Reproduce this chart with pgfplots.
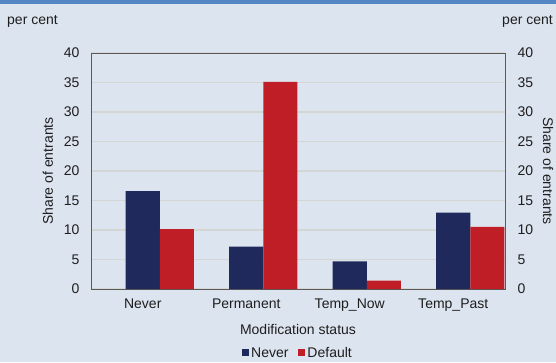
\documentclass[border=0pt]{standalone}
\usepackage{pgfplots}
\pgfplotsset{compat=1.18}
\usepackage{fontspec}
\setmainfont{Liberation Sans}
\definecolor{bg}{RGB}{220,228,240}
\definecolor{topbar}{RGB}{84,134,196}
\definecolor{navy}{RGB}{31,41,92}
\definecolor{cred}{RGB}{192,30,38}
\definecolor{gridc}{RGB}{212,214,212}
\definecolor{axc}{RGB}{90,90,90}
\definecolor{txt}{RGB}{30,30,30}
\begin{document}
\begin{tikzpicture}[x=1pt,y=1pt,font=\fontsize{14}{16}\selectfont]
\useasboundingbox (0,0) rectangle (556,362);
\fill[bg] (0,0) rectangle (556,362);
\fill[topbar] (0,358) rectangle (556,362);
\node[anchor=west,inner sep=0pt,text=txt] at (7,341) {per cent};
\node[anchor=east,inner sep=0pt,text=txt] at (553,341) {per cent};
\begin{axis}[
  at={(91pt,73pt)}, anchor=south west,
  width=414pt, height=236pt, scale only axis,
  xmin=-0.5, xmax=3.5, ymin=0, ymax=40,
  ytick={0,5,...,40},
  xtick={0,1,2,3},
  xticklabels={Never,Permanent,Temp\_Now,Temp\_Past},
  major tick length=0pt,
  ybar=0pt, bar width=0.33,
  axis line style={axc, line width=1pt},
  ymajorgrids, grid style={gridc, line width=1.2pt},
  tick label style={text=txt, font=\fontsize{14}{16}\selectfont},
  /pgf/number format/assume math mode=true,
  yticklabel style={xshift=-8pt},
  xticklabel style={yshift=-6pt},
  xlabel={Modification status},
  xlabel style={text=txt, font=\fontsize{14}{16}\selectfont, yshift=-6pt},
  ylabel={Share of entrants},
  ylabel style={text=txt, font=\fontsize{14}{16}\selectfont, yshift=4pt},
  legend style={at={(0.5,-0.271)}, anchor=center, draw=none, fill=none,
    legend columns=2, font=\fontsize{14}{16}\selectfont, text=txt,
    inner sep=0pt,
    /tikz/every even column/.append style={column sep=8pt}},
  legend image code/.code={\fill[#1] (2pt,-3.5pt) rectangle (9pt,3.5pt);},
]
\addplot[fill=navy, draw=none, bar shift=0] coordinates {(0,16.6) (1,7.2) (2,4.7) (3,12.95)};
\addplot[fill=cred, draw=none, bar shift=0.33] coordinates {(0,10.15) (1,35.1) (2,1.4) (3,10.55)};
\legend{Never,Default}
\end{axis}
\begin{axis}[
  at={(91pt,73pt)}, anchor=south west,
  width=414pt, height=236pt, scale only axis,
  xmin=-0.5, xmax=3.5, ymin=0, ymax=40,
  ytick={0,5,...,40},
  axis y line*=right, axis x line=none,
  major tick length=0pt,
  axis line style={axc, line width=1pt},
  tick label style={text=txt, font=\fontsize{14}{16}\selectfont},
  /pgf/number format/assume math mode=true,
  yticklabel style={xshift=9pt},
  ylabel={Share of entrants},
  ylabel style={text=txt, font=\fontsize{14}{16}\selectfont, rotate=180, yshift=3pt},
]
\addplot[draw=none, forget plot] coordinates {(0,0)};
\end{axis}
\end{tikzpicture}
\end{document}
